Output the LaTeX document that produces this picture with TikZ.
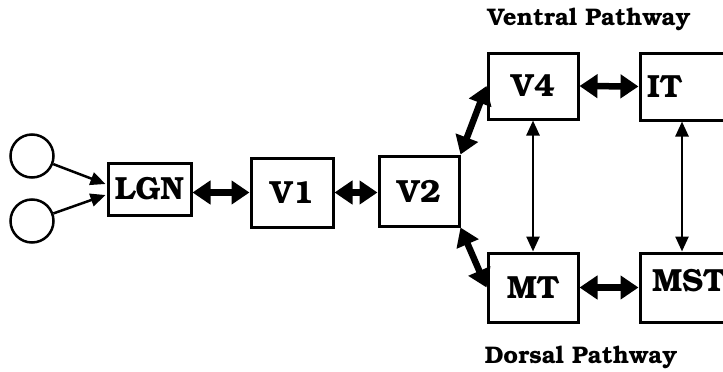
\documentclass[tikz,border=0pt]{standalone}
\usepackage[T1]{fontenc}
\usepackage{bookman}
\usetikzlibrary{arrows.meta,calc}
\begin{document}
\begin{tikzpicture}[x=1pt,y=-1pt,
  area/.style={draw,line width=3pt,inner sep=0pt,font=\fontsize{32}{37}\selectfont\bfseries},
  cell/.style={draw,circle,line width=2.5pt,minimum size=43pt,inner sep=0pt},
  thick2/.style={line width=6.5pt,{Triangle[length=18pt,width=23pt]}-{Triangle[length=18pt,width=23pt]}},
  thin2/.style={line width=2.5pt,{Triangle[length=15pt,width=13pt]}-{Triangle[length=15pt,width=13pt]}},
  feed/.style={line width=2.5pt,-{Triangle[length=15pt,width=13pt]}},
  title/.style={font=\fontsize{24}{28}\selectfont\bfseries}]
\useasboundingbox (0,0) rectangle (723,372);
\clip (0,0) rectangle (723,372);
\node[cell] (c1) at (32,156) {};
\node[cell] (c2) at (32,221) {};
\node[area,minimum width=83pt,minimum height=52pt] (LGN) at (149.5,189) {LGN};
\node[area,minimum width=82pt,minimum height=69pt] (V1) at (292,192.5) {V1};
\node[area,minimum width=80pt,minimum height=70pt] (V2) at (419,191) {V2};
\node[area,minimum width=90pt,minimum height=66pt] (V4) at (533,86) {V4};
\node[area,minimum width=90pt,minimum height=69pt] (MT) at (533,287.5) {MT};
\node[area,minimum height=67pt,text width=70pt,align=left,inner xsep=7pt] (IT) at (682,86.5) {IT};
\node[area,minimum height=69pt,text width=60pt,align=left,inner xsep=12pt,text depth=14pt] (MST) at (682,287.5) {MST};
\node[title] (vt) at (589,20) {Ventral Pathway};
\node[title] (dt) at (581,358) {Dorsal Pathway};
\draw[feed] (c1) -- ($(LGN.west)+(-1,-5)$);
\draw[feed] (c2) -- ($(LGN.west)+(-1,6)$);
\draw[thick2] (LGN.east |- V1.west) -- (V1.west);
\draw[thick2] (V1.east) -- (V2.west |- V1.east);
\draw[thick2] (V2.north east) -- (V4.west);
\draw[thick2] (V2.south east) -- (MT.west);
\draw[thick2] (V4.east) -- (IT.west);
\draw[thick2] (MT.east) -- (MST.west);
\draw[thin2] (V4.south) -- (MT.north);
\draw[thin2] (IT.south) -- (MST.north);
\end{tikzpicture}
\end{document}
